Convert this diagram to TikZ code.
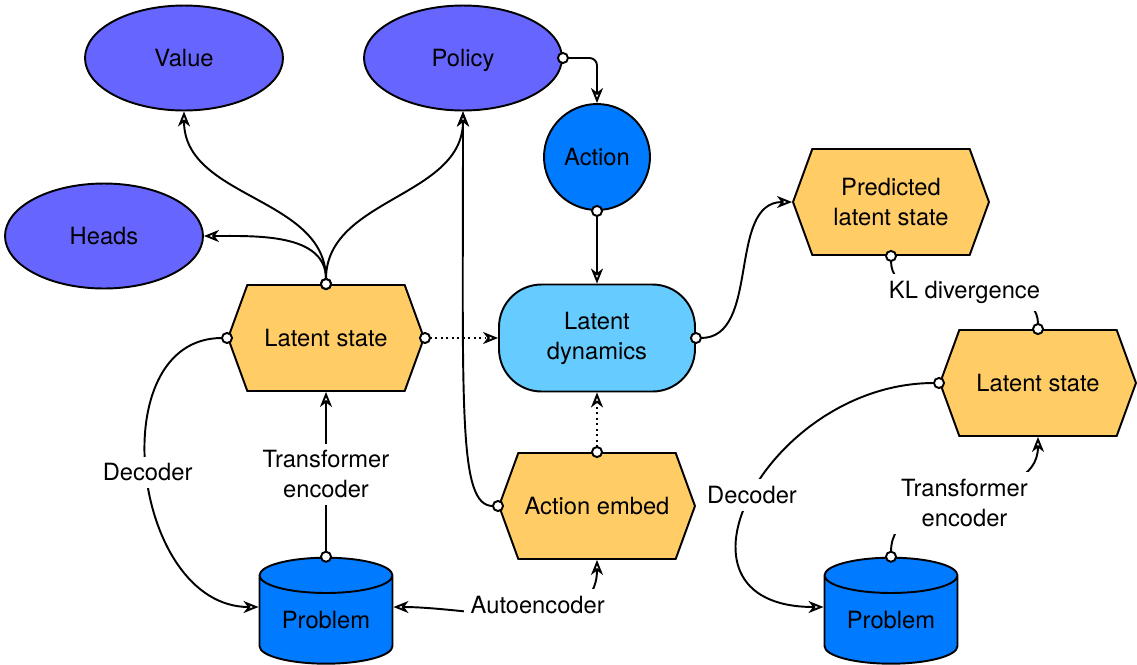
\documentclass[tikz,border=0pt]{standalone}
\usepackage{xcolor}
\usepackage{fontspec}
\setmainfont{TeX Gyre Heros}
\usepackage{tikz}
\usetikzlibrary{arrows.meta,
                shapes.geometric,
                shapes.symbols}
\definecolor[named]{headviolet}{rgb}{0.4,0.4,1}
\definecolor[named]{stateorange}{rgb}{1,0.8,0.4}
\definecolor[named]{actionblue}{rgb}{0,0.48,1}
\definecolor[named]{dynblue}{rgb}{0.4,0.8,1}
\tikzset{knob/.tip={Circle[fill=white,length=2.4mm]},
         hollow/.tip={Stealth[open,length=3mm,width=2.4mm,inset=0.9mm]}}

\begin{document}
\begin{tikzpicture}
       [x=0.02cm,y=-0.02cm,
        every node/.style={font=\fontsize{13.5}{17}\selectfont,align=center},
        head/.style={ellipse,draw=black,fill=headviolet,line width=1.1pt,
                     minimum width=3.96cm,minimum height=2.1cm,inner sep=0pt,
                     text depth=0pt},
        state/.style={signal,signal to=east and west,signal pointer angle=140,
                      draw=black,fill=stateorange,line width=1.1pt,
                      minimum width=3.92cm,minimum height=2.12cm,inner sep=0pt},
        store/.style={cylinder,shape border rotate=90,aspect=0.4,
                      draw=black,fill=actionblue,line width=1.1pt,
                      minimum width=2.66cm,minimum height=2.12cm,inner sep=0pt},
        wire/.style={line width=1.1pt},
        link/.style={wire,knob-hollow,shorten <=-1.2mm},
        tag/.style={fill=white,inner sep=4pt}]
       \useasboundingbox (0,0) rectangle (1137,664);

       \node [head] (value)  at (184,58)  {Value};
       \node [head] (policy) at (463,58)  {Policy};
       \node [head] (heads)  at (104,236) {Heads};
       \node [circle,draw=black,fill=actionblue,line width=1.1pt,
              minimum size=2.12cm,inner sep=0pt] (action) at (597,157) {Action};
       \node [state] (latent) at (326,338) {Latent state};
       \node [rectangle,rounded corners=0.85cm,draw=black,fill=dynblue,
              line width=1.1pt,minimum width=3.92cm,minimum height=2.14cm]
              (dynamics) at (597,338) {Latent\\dynamics};
       \node [state] (embed)  at (597,506) {Action embed};
       \node [store] (problem) at (326,620) {Problem};
       \node [state] (predicted) at (891,202) {Predicted\\latent state};
       \node [state] (target) at (1038,383) {Latent state};
       \node [store] (sample) at (891,620) {Problem};

       \draw [link,rounded corners=1.5mm] (policy.east) -| (action.north);
       \draw [link] (action.south) -- (dynamics.north);
       \draw [link] (latent.north) to[out=90,in=0] (heads.east);
       \draw [link] (latent.north) to[out=90,in=-90] (value.south);
       \draw [link] (latent.north) to[out=90,in=-90] (policy.south);
       \draw [link,dotted] (latent.east) -- (dynamics.west);
       \draw [link,dotted] (embed.north) -- (dynamics.south);
       \draw [link] (embed.west) .. controls +(-40,0) and +(0,300) .. (policy.south);
       \draw [link] (dynamics.east) to[out=0,in=180] (predicted.west);
       \draw [link] (latent.west) to[out=180,in=180,looseness=1.2]
             node [tag] {Decoder} ([yshift=0.26cm]problem.west);
       \draw [link] (problem.north) -- node [tag] {Transformer\\encoder} (latent.south);
       \draw [wire,hollow-hollow] ([yshift=0.26cm]problem.east) to[out=0,in=-90]
             node [tag,pos=0.55,yshift=0.16cm] {Autoencoder} (embed.south);

       \draw [link,knob-knob,shorten >=-1.2mm] (predicted.south) to[out=-90,in=90]
             node [tag] {KL divergence} (target.north);
       \draw [link] (target.west) to[out=180,in=180,looseness=1.75]
             node [tag] {Decoder} ([yshift=0.26cm]sample.west);
       \draw [link] (sample.north) to[out=90,in=-90]
             node [tag,yshift=-0.12cm] {Transformer\\encoder} (target.south);
\end{tikzpicture}
\end{document}
